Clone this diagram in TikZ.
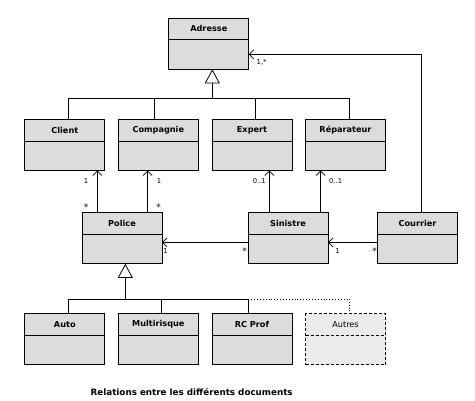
\documentclass[tikz,border=0pt]{standalone}
\usepackage{fontspec}
\setmainfont{DejaVu Sans}
\usetikzlibrary{arrows.meta}
\definecolor{boxfill}{HTML}{DCDCDC}
\definecolor{boxfilllight}{HTML}{EBEBEB}
\tikzset{
  cls/.style={draw=black, fill=boxfill, line width=0.9bp, minimum width=80bp, minimum height=51bp, inner sep=0pt, outer sep=0pt},
  clsdash/.style={cls, fill=boxfilllight, dash pattern=on 3bp off 2bp},
  ttl/.style={font=\fontsize{8.2}{10}\selectfont\bfseries, inner sep=0pt},
  ttlplain/.style={font=\fontsize{8.2}{10}\selectfont, inner sep=0pt},
  mult/.style={font=\fontsize{6.8}{8}\selectfont, inner sep=0pt},
  star/.style={font=\fontsize{9}{10}\selectfont, inner sep=0pt},
  gen/.style={line width=0.9bp, -{Triangle[open, length=14bp, width=15bp, line width=0.8bp]}},
  assoc/.style={line width=0.9bp, -{Straight Barb[length=4.5bp, width=9bp, line width=0.7bp]}},
  ln/.style={line width=0.9bp},
}
\newcommand\clsbox[5]{% name, x, y, title, style
  \node[#5] (#1) at (#2,#3) {};
  \draw[ln, #5, fill=none] ([yshift=-21.5bp]#1.north west) -- ([yshift=-21.5bp]#1.north east);
}
\begin{document}
\begin{tikzpicture}[x=1bp, y=-1bp]
\useasboundingbox (0,0) rectangle (475,400);
% classes
\clsbox{adr}{208.8}{43.8}{Adresse}{cls}
\node[ttl] at ([yshift=-10.5bp]adr.north) {Adresse};
\clsbox{cli}{64.8}{145}{Client}{cls}
\node[ttl] at ([yshift=-10.5bp]cli.north) {Client};
\clsbox{cmp}{158.3}{145}{Compagnie}{cls}
\node[ttl] at ([yshift=-10.5bp]cmp.north) {Compagnie};
\clsbox{exp}{252}{145}{Expert}{cls}
\node[ttl] at ([yshift=-10.5bp]exp.north) {Expert};
\clsbox{rep}{345.5}{145}{Réparateur}{cls}
\node[ttl] at ([yshift=-10.5bp]rep.north) {Réparateur};
\clsbox{pol}{122}{238.3}{Police}{cls}
\node[ttl] at ([yshift=-10.5bp]pol.north) {Police};
\clsbox{sin}{288}{238.3}{Sinistre}{cls}
\node[ttl] at ([yshift=-10.5bp]sin.north) {Sinistre};
\clsbox{cou}{417.5}{238.3}{Courrier}{cls}
\node[ttl] at ([yshift=-10.5bp]cou.north) {Courrier};
\clsbox{aut}{64.8}{339.3}{Auto}{cls}
\node[ttl] at ([yshift=-10.5bp]aut.north) {Auto};
\clsbox{mul}{158.3}{339.3}{Multirisque}{cls}
\node[ttl] at ([yshift=-10.5bp]mul.north) {Multirisque};
\clsbox{rcp}{252}{339.3}{RC Prof}{cls}
\node[ttl] at ([yshift=-10.5bp]rcp.north) {RC Prof};
\clsbox{oth}{345.5}{339.3}{Autres}{clsdash}
\node[ttlplain] at ([yshift=-10.5bp]oth.north) {Autres};

% generalisation to Adresse
\coordinate (gA) at (212.3,98.3);
\draw[gen] (gA) -- (gA |- adr.south);
\draw[ln] ([xshift=3.5bp]cli.north) |- ([xshift=4bp]rep.north |- gA) -- ([xshift=4bp]rep.north);
\draw[ln] ([xshift=-4bp]cmp.north) -- ([xshift=-4bp]cmp.north |- gA);
\draw[ln] ([xshift=3.3bp]exp.north) -- ([xshift=3.3bp]exp.north |- gA);

% generalisation to Police
\coordinate (gP) at (125.3,299);
\draw[gen] (gP) -- (gP |- pol.south);
\draw[ln] ([xshift=3.5bp]aut.north) |- ([xshift=-3.7bp]rcp.north |- gP) -- ([xshift=-3.7bp]rcp.north);
\draw[ln] ([xshift=3.4bp]mul.north) -- ([xshift=3.4bp]mul.north |- gP);
\draw[line width=0.9bp, dotted] ([xshift=-3.7bp]rcp.north |- gP) -| ([xshift=4.2bp]oth.north);

% associations
\draw[assoc] ([xshift=-24.7bp]pol.north) -- ([xshift=-24.7bp]pol.north |- cli.south);
\draw[assoc] ([xshift=25.7bp]pol.north) -- ([xshift=25.7bp]pol.north |- cmp.south);
\draw[assoc] ([xshift=-18.7bp]sin.north) -- ([xshift=-18.7bp]sin.north |- exp.south);
\draw[assoc] ([xshift=32.7bp]sin.north) -- ([xshift=32.7bp]sin.north |- rep.south);
\draw[assoc] ([xshift=4.2bp]cou.north) |- ([yshift=-10.5bp]adr.east);
\draw[assoc] ([yshift=-4bp]sin.west) -- ([yshift=-4bp]pol.east);
\draw[assoc] ([yshift=-4bp]cou.west) -- ([yshift=-4bp]sin.east);

% multiplicities
\node[mult] (m1) at (86,181.5) {1};
\node[mult] (m2) at (159,181.5) {1};
\node[mult, anchor=east] (m3) at (266,181) {0..1};
\node[mult, anchor=west] (m4) at (329,181) {0..1};
\node[mult, anchor=west] (m5) at (256.5,62) {1,*};
\node[star] (m6) at (86,207.5) {*};
\node[star] (m7) at (158.5,207.5) {*};
\node[mult] (m8) at (165.5,251.5) {1};
\node[star] (m9) at (244.5,251.5) {*};
\node[mult] (m10) at (337.5,251.5) {1};
\node[star] (m11) at (374.5,251.5) {*};

% caption
\node[ttl, font=\fontsize{8.8}{10}\selectfont\bfseries] (cap) at (191.7,391.7) {Relations entre les différents documents};
\end{tikzpicture}
\end{document}
